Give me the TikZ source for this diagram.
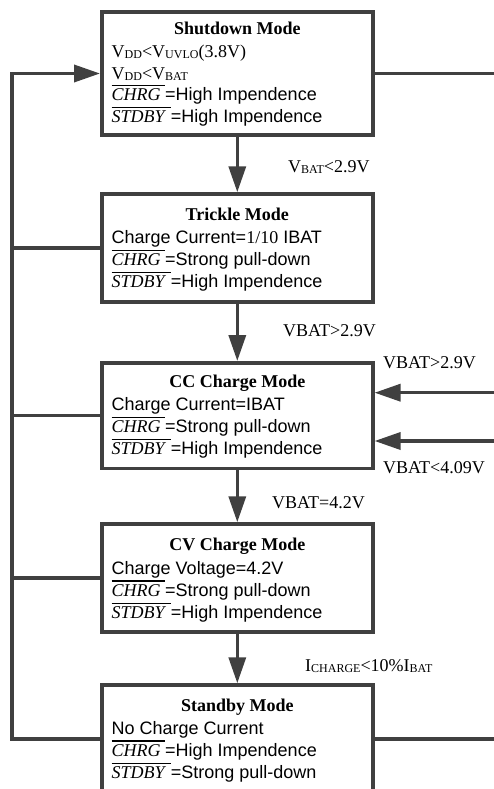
\documentclass[tikz,border=0pt]{standalone}
\usepackage{fontspec}
\setmainfont{Liberation Serif}
\newfontfamily\arialf{Liberation Sans}
\usetikzlibrary{arrows.meta}
\definecolor{lc}{HTML}{404040}
\newcommand\sbs[1]{\raisebox{-1.5pt}{\fontsize{12}{12}\selectfont #1}}
\newsavebox\ovlbox
\newcommand\ovl[1]{\sbox\ovlbox{#1}\rlap{\raisebox{14.5pt}{\rule{\wd\ovlbox}{1.2pt}}}\usebox\ovlbox}
\tikzset{
  ln/.style={draw=lc, line width=3.5pt},
  arr/.style={ln, -{Triangle[length=26pt,width=17pt]}},
  box/.style={draw=lc, line width=3.5pt, minimum width=271pt, inner sep=0pt},
  ttl/.style={anchor=base, inner sep=0pt, font=\fontsize{18}{18}\selectfont\bfseries},
  body/.style={anchor=base west, inner sep=0pt, font=\fontsize{18}{18}\selectfont},
  lab/.style={anchor=base west, inner sep=0pt, font=\fontsize{18}{18}\selectfont}
}
\begin{document}
\begin{tikzpicture}[x=1pt,y=-1pt]
\useasboundingbox (0,0) rectangle (494,789);
\clip (0,0) rectangle (494,789);
% boxes
\node[box, minimum height=123pt] (shut) at (237.3,73.5) {};
\node[box, minimum height=108pt] (trick) at (237.3,248) {};
\node[box, minimum height=105.5pt] (cc) at (237.3,415.5) {};
\node[box, minimum height=108pt] (cv) at (237.3,578) {};
\node[box, minimum height=108pt] (stby) at (237.3,739) {};
% shutdown text
\node[ttl] (t1) at (237.3,34.3) {Shutdown Mode};
\node[body] (s1) at (111.5,57.5) {V\sbs{DD}<V\sbs{UVLO}(3.8V)};
\node[body] (s2) at (111.5,79.3) {V\sbs{DD}<V\sbs{BAT}};
\node[body] (s3) at (111.5,101) {\ovl{\textit{CHRG}\ }{\arialf =High Impendence}};
\node[body] (s4) at (111.5,123) {\ovl{\textit{STDBY}\ }{\arialf =High Impendence}};
% trickle text
\node[ttl] (t2) at (237.3,220) {Trickle Mode};
\node[body] (k1) at (111.5,243.3) {{\arialf Charge Current=}1/10{\arialf\ IBAT}};
\node[body] (k2) at (111.5,265.3) {\ovl{\textit{CHRG}\ }{\arialf =Strong pull-down}};
\node[body] (k3) at (111.5,287.3) {\ovl{\textit{STDBY}\ }{\arialf =High Impendence}};
% cc text
\node[ttl] (t3) at (237.3,387.7) {CC Charge Mode};
\node[body] (c1) at (111.5,410) {{\arialf Charge Current=IBAT}};
\node[body] (c2) at (111.5,432.3) {\ovl{\textit{CHRG}\ }{\arialf =Strong pull-down}};
\node[body] (c3) at (111.5,454.3) {\ovl{\textit{STDBY}\ }{\arialf =High Impendence}};
% cv text
\node[ttl] (t4) at (237.3,550) {CV Charge Mode};
\node[body] (v1) at (111.5,574) {{\arialf Charge Voltage=4.2V}};
\node[body] (v2) at (111.5,596) {\ovl{\textit{CHRG}\ }{\arialf =Strong pull-down}};
\node[body] (v3) at (111.5,618.3) {\ovl{\textit{STDBY}\ }{\arialf =High Impendence}};
% standby text
\node[ttl] (t5) at (237.3,711.7) {Standby Mode};
\node[body] (b1) at (111.5,734) {{\arialf No Charge Current}};
\node[body] (b2) at (111.5,756) {\ovl{\textit{CHRG}\ }{\arialf =High Impendence}};
\node[body] (b3) at (111.5,778.3) {\ovl{\textit{STDBY}\ }{\arialf =Strong pull-down}};
% labels
\node[lab] (l1) at (288,172) {V\sbs{BAT}<2.9V};
\node[lab] (l2) at (283,336) {VBAT>2.9V};
\node[lab] (l3) at (383,368) {VBAT>2.9V};
\node[lab] (l4) at (383,473) {VBAT<4.09V};
\node[lab] (l5) at (272,508) {VBAT=4.2V};
\node[lab] (l6) at (305,671) {I\sbs{CHARGE}<10\%I\sbs{BAT}};
% vertical arrows
\draw[arr] (shut.south) -- (trick.north);
\draw[arr] (trick.south) -- (cc.north);
\draw[arr] (cc.south) -- (cv.north);
\draw[arr] (cv.south) -- (stby.north);
% left return path
\coordinate (lt) at (12,73.5);
\coordinate (lb) at (12,739);
\draw[arr] (stby.west) -- (lb) -- (lt) -- (shut.west);
\draw[ln] (trick.west) -- (trick.west -| lt);
\draw[ln] (cc.west) -- (cc.west -| lt);
\draw[ln] (cv.west) -- (cv.west -| lt);
% right side
\coordinate (r1) at (500,73.5);
\coordinate (ra) at (500,392.7);
\coordinate (rb) at (500,441);
\coordinate (r2) at (500,739);
\draw[ln] (shut.east) -- (r1);
\draw[arr] (ra) -- (ra -| cc.east);
\draw[arr] (rb) -- (rb -| cc.east);
\draw[ln] (stby.east) -- (r2);
\end{tikzpicture}
\end{document}
